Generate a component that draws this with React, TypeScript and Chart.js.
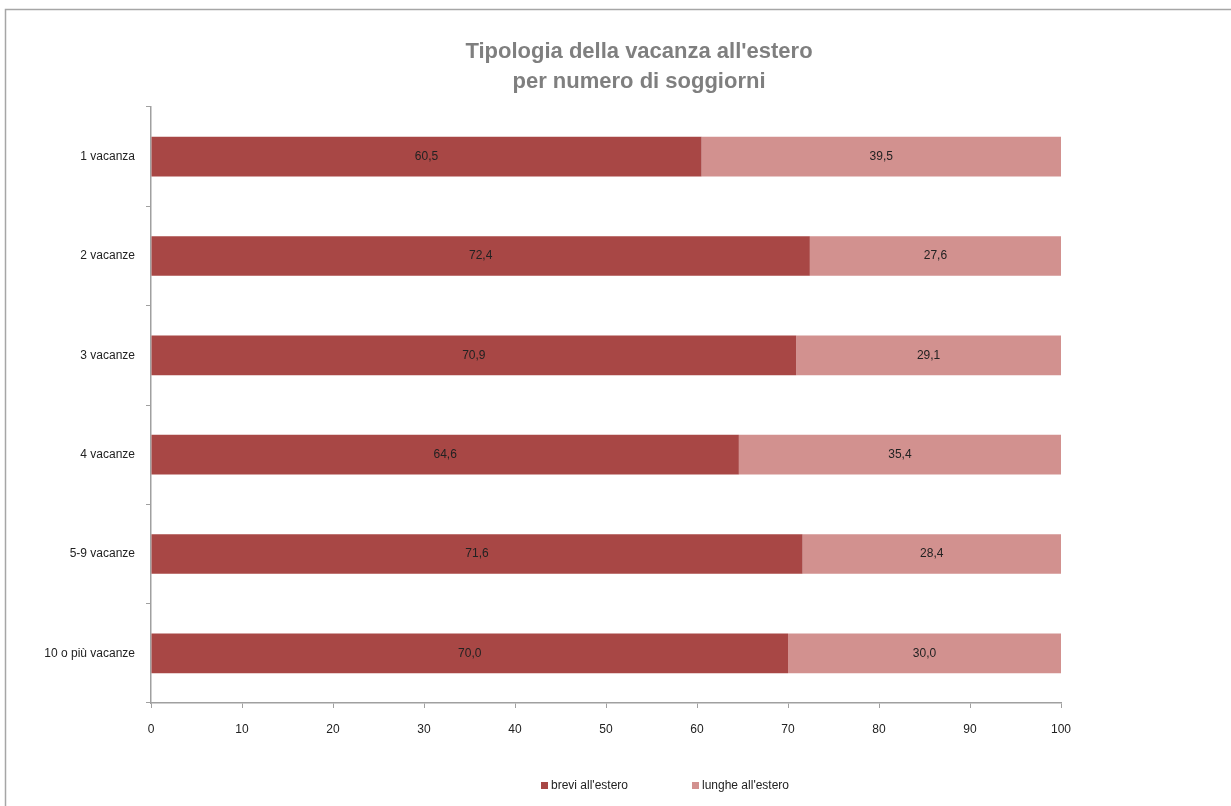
import React, { useEffect, useRef } from "react";
import { Chart, registerables } from "chart.js";

Chart.register(...registerables);

const categories = ["1 vacanza", "2 vacanze", "3 vacanze", "4 vacanze", "5-9 vacanze", "10 o più vacanze"];
const breviValues = [60.5, 72.4, 70.9, 64.6, 71.6, 70.0];
const lungheValues = [39.5, 27.6, 29.1, 35.4, 28.4, 30.0];
const seriesNames = ["brevi all'estero", "lunghe all'estero"];
const titleLines = ["Tipologia della vacanza all'estero", "per numero di soggiorni"];

const DARK = "#A84745";
const LIGHT = "#D2918F";
const FONT = "'Liberation Sans', Arial, sans-serif";

const framePlugin = {
  id: "frame",
  beforeDraw(chart: any) {
    const ctx = chart.ctx;
    ctx.save();
    ctx.fillStyle = "#ffffff";
    ctx.fillRect(0, 0, chart.width, chart.height);
    ctx.strokeStyle = "#a6a6a6";
    ctx.lineWidth = 1.5;
    ctx.beginPath();
    ctx.moveTo(5.5, chart.height);
    ctx.lineTo(5.5, 9.5);
    ctx.lineTo(chart.width, 9.5);
    ctx.stroke();
    ctx.restore();
  },
  afterDraw(chart: any) {
    const ctx = chart.ctx;
    ctx.save();
    // title
    ctx.fillStyle = "#7f7f7f";
    ctx.font = `bold 22px ${FONT}`;
    ctx.textAlign = "center";
    ctx.textBaseline = "middle";
    ctx.fillText(titleLines[0], 639, 52);
    ctx.fillText(titleLines[1], 639, 82);
    // legend
    ctx.font = `12px ${FONT}`;
    ctx.textAlign = "left";
    const items = [
      { x: 541, color: DARK, text: seriesNames[0] },
      { x: 692, color: LIGHT, text: seriesNames[1] },
    ];
    items.forEach((it) => {
      ctx.fillStyle = it.color;
      ctx.fillRect(it.x, 782, 7, 7);
      ctx.fillStyle = "#222";
      ctx.fillText(it.text, it.x + 10, 786);
    });
    // data labels
    ctx.font = `12px ${FONT}`;
    ctx.textAlign = "center";
    ctx.fillStyle = "#222";
    chart.data.datasets.forEach((ds: any, di: number) => {
      const meta = chart.getDatasetMeta(di);
      meta.data.forEach((bar: any, i: number) => {
        const v = ds.data[i];
        const cx = (bar.x + bar.base) / 2;
        ctx.fillText(v.toFixed(1).replace(".", ","), cx, bar.y);
      });
    });
    ctx.restore();
  },
};

export default function App() {
  const ref = useRef<HTMLCanvasElement>(null);
  useEffect(() => {
    if (!ref.current) return;
    const chart = new Chart(ref.current, {
      type: "bar",
      data: {
        labels: categories,
        datasets: [
          { label: seriesNames[0], data: breviValues, backgroundColor: DARK, barPercentage: 0.4, categoryPercentage: 1 },
          { label: seriesNames[1], data: lungheValues, backgroundColor: LIGHT, barPercentage: 0.4, categoryPercentage: 1 },
        ],
      },
      options: {
        indexAxis: "y",
        responsive: false,
        animation: false,
        layout: { padding: { left: 0, right: 170, top: 107, bottom: 0 } },
        plugins: { legend: { display: false }, title: { display: false }, tooltip: { enabled: false } },
        scales: {
          x: {
            stacked: true,
            min: 0,
            max: 100,
            ticks: { stepSize: 10, color: "#222", font: { family: FONT, size: 12 }, padding: 14 },
            grid: { drawOnChartArea: false, drawTicks: true, tickLength: 5, color: "#a0a0a0" },
            border: { color: "#a0a0a0", width: 1.5 },
            afterFit(scale: any) {
              scale.height = 103;
            },
          },
          y: {
            stacked: true,
            ticks: { color: "#222", font: { family: FONT, size: 12 }, padding: 11 },
            grid: { drawOnChartArea: false, drawTicks: true, tickLength: 5, color: "#a0a0a0", offset: true },
            border: { color: "#a0a0a0", width: 1.5 },
            afterFit(scale: any) {
              scale.width = 151;
            },
          },
        },
      },
      plugins: [framePlugin],
    });
    return () => chart.destroy();
  }, []);
  return (
    <div style={{ position: "fixed", left: 0, top: 0, width: 1231, height: 806, background: "#fff" }}>
      <canvas ref={ref} width={1231} height={806} />
    </div>
  );
}
